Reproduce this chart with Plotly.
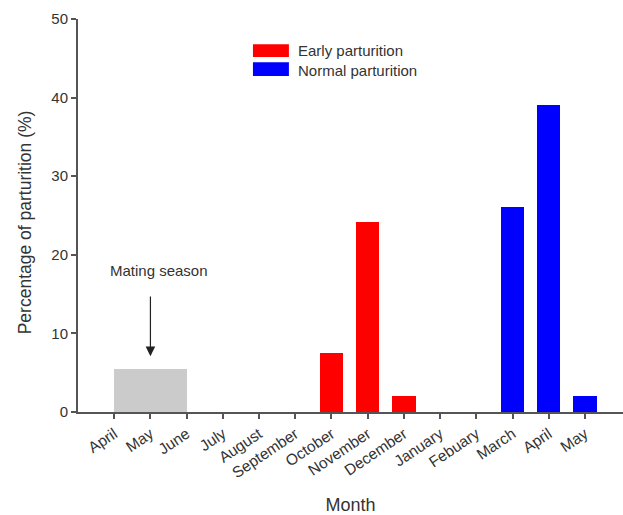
import plotly.graph_objects as go

months = ["April", "May", "June", "July", "August", "September", "October",
          "November", "December", "January", "Febuary", "March", "April", "May"]
early_idx = [6, 7, 8]
early_vals = [7.5, 24.2, 2.0]
normal_idx = [11, 12, 13]
normal_vals = [26.1, 39.0, 2.0]
mating_center = [1]
mating_width = [2]
mating_vals = [5.45]
yticks = [0, 10, 20, 30, 40, 50]

font = "Liberation Sans, Arial, sans-serif"
axis_col = "#555555"
txt_col = "#333333"

fig = go.Figure()
fig.add_trace(go.Bar(x=mating_center, y=mating_vals, width=mating_width,
                     marker=dict(color="#cbcbcb", line=dict(width=0)),
                     showlegend=False, hoverinfo="skip"))
fig.add_trace(go.Bar(x=early_idx, y=early_vals, width=0.64, name="Early parturition",
                     marker=dict(color="#ff0000", line=dict(width=0)), showlegend=False))
fig.add_trace(go.Bar(x=normal_idx, y=normal_vals, width=0.64, name="Normal parturition",
                     marker=dict(color="#0000ff", line=dict(width=0)), showlegend=False))

# legend drawn manually (wide swatches)
for (y0, y1, col, label, ty) in [(0.903, 0.936, "#ff0000", "Early parturition", 0.919),
                                  (0.855, 0.890, "#0000ff", "Normal parturition", 0.870)]:
    fig.add_shape(type="rect", xref="paper", yref="paper", x0=0.321, x1=0.387,
                  y0=y0, y1=y1, fillcolor=col, line=dict(width=0))
    fig.add_annotation(xref="paper", yref="paper", x=0.400, y=ty, text=label,
                       showarrow=False, xanchor="left", yanchor="middle",
                       font=dict(family=font, size=15, color=txt_col))

fig.add_annotation(x=1.24, y=18.0, text="Mating season", showarrow=False,
                   font=dict(family=font, size=15, color=txt_col))
fig.add_annotation(x=1, y=7.1, ax=1, ay=14.9, axref="x", ayref="y", text="",
                   showarrow=True, arrowhead=2, arrowsize=1.6, arrowwidth=1.2,
                   arrowcolor="#222222")

# y-axis title
fig.add_annotation(xref="paper", yref="paper", x=-0.097, y=0.483,
                   text="Percentage of parturition (%)", textangle=-90,
                   showarrow=False, xanchor="center", yanchor="middle",
                   font=dict(family=font, size=17.5, color=txt_col))

fig.update_layout(
    width=623, height=515,
    margin=dict(l=78, r=0, t=19, b=103),
    plot_bgcolor="white", paper_bgcolor="white",
    bargap=0,
    font=dict(family=font, color=txt_col),
    xaxis=dict(range=[-1.0, 14.05], tickmode="array", tickvals=list(range(len(months))),
               ticktext=months, tickangle=-34, ticks="outside", ticklen=5,
               tickcolor=axis_col, tickwidth=1.5, showline=True, linecolor=axis_col,
               linewidth=2, showgrid=False, zeroline=False,
               tickfont=dict(family=font, size=15.5, color=txt_col),
               title=dict(text="Month", font=dict(family=font, size=18, color=txt_col),
                          standoff=22)),
    yaxis=dict(range=[0, 50], tickvals=yticks, ticks="outside", ticklen=5,
               tickcolor=axis_col, tickwidth=1.5, showline=True, linecolor=axis_col,
               linewidth=2, showgrid=False, zeroline=False,
               tickfont=dict(family=font, size=15, color=txt_col)),
)

fig.write_html("out.html")
